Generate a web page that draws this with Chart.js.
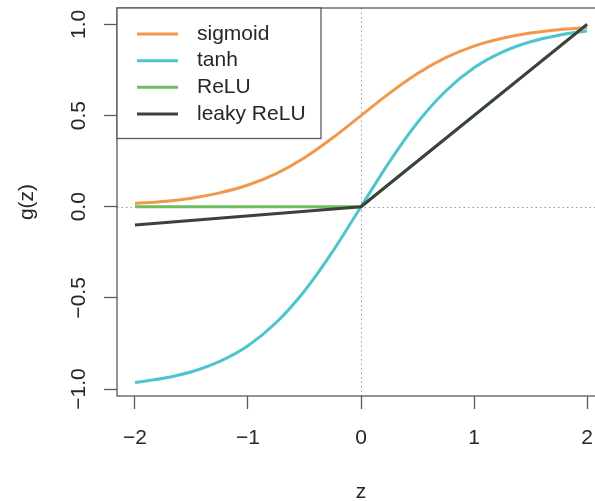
<!DOCTYPE html>
<html><head><meta charset="utf-8">
<script src="https://cdn.jsdelivr.net/npm/chart.js@4/dist/chart.umd.min.js"></script>
<style>
html,body{margin:0;padding:0;background:#fff;overflow:hidden;width:595px;height:501px;}
#wrap{position:relative;width:612px;height:501px;overflow:hidden;}
canvas{display:block;}
</style></head><body>
<div id="wrap"><canvas id="c" width="612" height="501"></canvas></div>
<script>
// ---- data ----
const zValues       = [-2, -1.75, -1.5, -1.25, -1, -0.75, -0.5, -0.25, 0, 0.25, 0.5, 0.75, 1, 1.25, 1.5, 1.75, 2];
const sigmoidValues = [0.018, 0.029, 0.047, 0.076, 0.119, 0.182, 0.269, 0.378, 0.500, 0.622, 0.731, 0.818, 0.881, 0.924, 0.953, 0.971, 0.982];
const tanhValues    = [-0.964, -0.941, -0.905, -0.848, -0.762, -0.635, -0.462, -0.245, 0.000, 0.245, 0.462, 0.635, 0.762, 0.848, 0.905, 0.941, 0.964];
const reluZ         = [-2, 0, 2];
const reluValues    = [0, 0, 1];
const leakyZ        = [-2, 0, 2];
const leakyValues   = [-0.1, 0, 1];
const xTickValues   = [-2, -1, 0, 1, 2];
const xTickLabels   = ['\u22122', '\u22121', '0', '1', '2'];
const yTickValues   = [-1, -0.5, 0, 0.5, 1];
const yTickLabels   = ['\u22121.0', '\u22120.5', '0.0', '0.5', '1.0'];
const seriesNames   = ['sigmoid', 'tanh', 'ReLU', 'leaky ReLU'];
const seriesColors  = ['#F0994C', '#4EC4CE', '#6CBF5C', '#3C413D'];
const xTitle = 'z';
const yTitle = 'g(z)';

const FONT = '"Liberation Sans", Arial, Helvetica, sans-serif';
const TEXT = '#262626';
const AXIS = '#5a5a5a';

const pts = (xs, ys) => xs.map((x, i) => ({x: x, y: ys[i]}));
const seriesPoints = [
  pts(zValues, sigmoidValues),
  pts(zValues, tanhValues),
  pts(reluZ, reluValues),
  pts(leakyZ, leakyValues)
];
const curved = [true, true, false, false];

const datasets = seriesNames.map((name, i) => ({
  label: name,
  data: seriesPoints[i],
  borderColor: seriesColors[i],
  backgroundColor: seriesColors[i],
  borderWidth: 3,
  pointRadius: 0,
  fill: false,
  cubicInterpolationMode: curved[i] ? 'monotone' : 'default',
  tension: 0,
  order: seriesNames.length - i
}));

const framePlugin = {
  id: 'frame',
  beforeDatasetsDraw(chart) {
    const {ctx, chartArea: a, scales} = chart;
    ctx.save();
    ctx.strokeStyle = '#9a9a9a';
    ctx.lineWidth = 1;
    ctx.setLineDash([1.5, 3]);
    const x0 = Math.round(scales.x.getPixelForValue(0)) + 0.5;
    const y0 = Math.round(scales.y.getPixelForValue(0)) + 0.5;
    ctx.beginPath();
    ctx.moveTo(x0, a.top); ctx.lineTo(x0, a.bottom);
    ctx.moveTo(a.left, y0); ctx.lineTo(a.right, y0);
    ctx.stroke();
    ctx.restore();
  },
  afterDatasetsDraw(chart) {
    const {ctx, chartArea: a} = chart;
    ctx.save();
    ctx.strokeStyle = AXIS;
    ctx.lineWidth = 1.3;
    ctx.strokeRect(a.left, a.top, a.right - a.left, a.bottom - a.top);
    // legend box (top-left, inset 0)
    const lx = a.left, ly = a.top, lw = 204, lh = 130.5;
    ctx.fillStyle = '#fff';
    ctx.fillRect(lx, ly, lw, lh);
    ctx.strokeRect(lx, ly, lw, lh);
    ctx.font = '21px ' + FONT;
    ctx.textBaseline = 'middle';
    ctx.textAlign = 'left';
    chart.data.datasets.forEach((ds, i) => {
      const cy = ly + 26 + i * 26.67;
      ctx.strokeStyle = ds.borderColor;
      ctx.lineWidth = 3;
      ctx.beginPath();
      ctx.moveTo(lx + 20, cy); ctx.lineTo(lx + 61, cy);
      ctx.stroke();
      ctx.fillStyle = TEXT;
      ctx.fillText(ds.label, lx + 80, cy);
    });
    ctx.restore();
  }
};

new Chart(document.getElementById('c'), {
  type: 'line',
  data: { datasets: datasets },
  plugins: [framePlugin],
  options: {
    responsive: false,
    animation: false,
    devicePixelRatio: 1,
    layout: { padding: { top: 8, right: 7, left: 0, bottom: 0 } },
    plugins: { legend: { display: false }, tooltip: { enabled: false } },
    scales: {
      x: {
        type: 'linear',
        min: -2.159, max: 2.159,
        afterBuildTicks: s => { s.ticks = xTickValues.map(v => ({value: v})); },
        afterFit: s => { s.height = 105; s.paddingLeft = 0; s.paddingRight = 0; },
        ticks: {
          callback: (v, i) => xTickLabels[i],
          font: { size: 21, family: FONT, lineHeight: 1.2 },
          color: TEXT, padding: 17, autoSkip: false, maxRotation: 0, minRotation: 0
        },
        grid: { drawOnChartArea: false, drawTicks: true, tickLength: 13, tickColor: AXIS, tickWidth: 1.3 },
        border: { display: false },
        title: { display: true, text: xTitle, color: TEXT, font: { size: 21, family: FONT, lineHeight: 0.8 }, padding: { top: 0, bottom: 0 } }
      },
      y: {
        type: 'linear',
        min: -1.038, max: 1.09,
        afterBuildTicks: s => { s.ticks = yTickValues.map(v => ({value: v})); },
        afterFit: s => { s.width = 117; s.paddingTop = 0; s.paddingBottom = 0; },
        ticks: {
          callback: (v, i) => yTickLabels[i],
          font: { size: 21, family: FONT, lineHeight: 1.2 },
          color: TEXT, padding: 4, autoSkip: false, minRotation: 90, maxRotation: 90, crossAlign: 'center'
        },
        grid: { drawOnChartArea: false, drawTicks: true, tickLength: 13, tickColor: AXIS, tickWidth: 1.3 },
        border: { display: false },
        title: { display: true, text: yTitle, color: TEXT, font: { size: 21, family: FONT, lineHeight: 1 }, padding: { top: 17, bottom: 0 } }
      }
    }
  }
});
</script>
</body></html>
